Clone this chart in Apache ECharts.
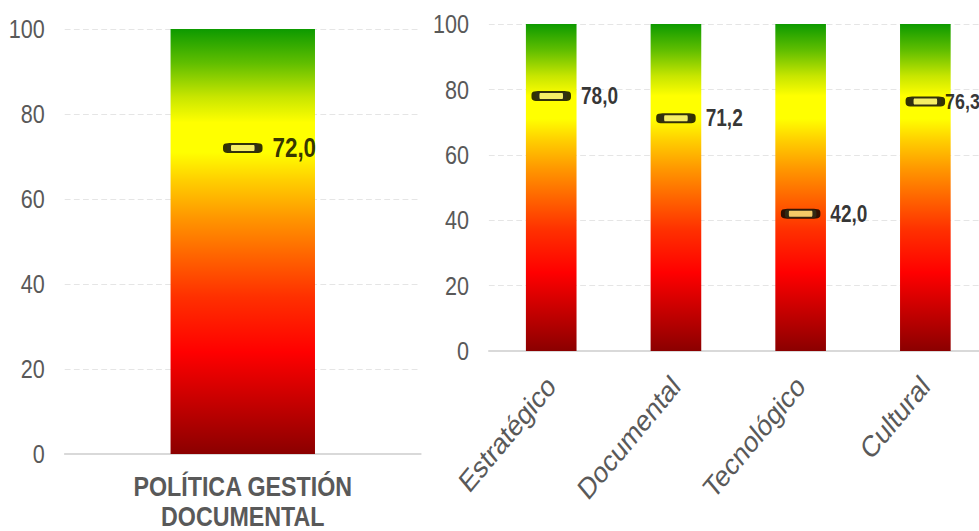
<!DOCTYPE html>
<html>
<head>
<meta charset="utf-8">
<script src="https://cdn.jsdelivr.net/npm/echarts@6/dist/echarts.min.js"></script>
<style>
html,body{margin:0;padding:0;background:#fff;overflow:hidden;width:979px;height:531px;}
#chart{width:1180px;height:531px;transform:scaleX(0.83);transform-origin:0 0;}
</style>
</head>
<body>
<div id="chart"></div>
<script>
// ---- data ----
const leftCategories = ['POLÍTICA GESTIÓN\nDOCUMENTAL'];
const leftValues = [72.0];
const leftScale = [100];
const rightCategories = ['Estratégico', 'Documental', 'Tecnológico', 'Cultural'];
const rightValues = [78.0, 71.2, 42.0, 76.3];
const rightScale = [100, 100, 100, 100];
const yMin = 0, yMax = 100, yInterval = 20;

const FONT = '"Liberation Sans", Arial, sans-serif';
const grey = '#595959';

const gradient = new echarts.graphic.LinearGradient(0, 0, 0, 1, [
  {offset: 0, color: '#0d9a00'},
  {offset: 0.08, color: '#60be00'},
  {offset: 0.16, color: '#c8e600'},
  {offset: 0.22, color: '#ffff00'},
  {offset: 0.29, color: '#ffff00'},
  {offset: 0.36, color: '#ffcc00'},
  {offset: 0.44, color: '#ff9900'},
  {offset: 0.53, color: '#ff6600'},
  {offset: 0.63, color: '#ff3000'},
  {offset: 0.76, color: '#ff0000'},
  {offset: 1, color: '#8b0000'}
]);

const markerPath = 'path://M3,0 H35 Q38,0 38,3 V5 Q38,8 35,8 H3 Q0,8 0,5 V3 Q0,0 3,0 Z';
const fmt = p => p.value.toFixed(1).replace('.', ',');

function yAxis(gi) {
  return {
    type: 'value', gridIndex: gi, min: yMin, max: yMax, interval: yInterval,
    axisLine: {show: false}, axisTick: {show: false},
    axisLabel: {color: grey, fontSize: 26, fontFamily: FONT, margin: 24},
    splitLine: {lineStyle: {color: '#e3e3e3', type: [7, 4], width: 1}}
  };
}

const markerStyle = {color: '#f2ea80', borderColor: '#000', borderWidth: 4.4};

const chart = echarts.init(document.getElementById('chart'), null, {renderer: 'svg'});
chart.setOption({
  animation: false,
  backgroundColor: '#fff',
  grid: [
    {left: 78, right: 673, top: 29, bottom: 77, containLabel: false, outerBoundsMode: 'none'},
    {left: 589, right: -10, top: 24, bottom: 180, containLabel: false, outerBoundsMode: 'none'}
  ],
  xAxis: [
    {
      type: 'category', gridIndex: 0, data: leftCategories,
      axisLine: {lineStyle: {color: '#d9d9d9', width: 2}}, axisTick: {show: false},
      axisLabel: {color: grey, fontSize: 28, fontWeight: 'bold', fontFamily: FONT, lineHeight: 30, margin: 17}
    },
    {
      type: 'category', gridIndex: 1, data: rightCategories,
      axisLine: {lineStyle: {color: '#d9d9d9', width: 2}}, axisTick: {show: false},
      axisLabel: {color: grey, fontSize: 30, fontFamily: FONT, rotate: 45, margin: 30, interval: 0}
    }
  ],
  yAxis: [yAxis(0), yAxis(1)],
  series: [
    {
      type: 'bar', xAxisIndex: 0, yAxisIndex: 0, data: leftScale, barWidth: 174,
      itemStyle: {color: gradient}, silent: true
    },
    {
      type: 'bar', xAxisIndex: 1, yAxisIndex: 1, data: rightScale, barWidth: 61,
      itemStyle: {color: gradient}, silent: true
    },
    {
      type: 'scatter', xAxisIndex: 0, yAxisIndex: 0, data: leftValues, z: 5,
      symbol: markerPath, symbolSize: [38, 8],
      itemStyle: markerStyle,
      label: {show: true, position: 'right', distance: 12, formatter: fmt,
        color: '#000', fontSize: 27, fontWeight: 'bold', fontFamily: FONT}
    },
    {
      type: 'scatter', xAxisIndex: 1, yAxisIndex: 1, z: 5,
      data: rightValues.map((v, i) => i === 3 ? {value: v, label: {distance: 0, fontSize: 21.5}} : v),
      symbol: markerPath, symbolSize: [38, 8],
      itemStyle: markerStyle,
      label: {show: true, position: 'right', distance: 12, formatter: fmt,
        color: '#000', fontSize: 23, fontWeight: 'bold', fontFamily: FONT}
    }
  ]
});
</script>
</body>
</html>
